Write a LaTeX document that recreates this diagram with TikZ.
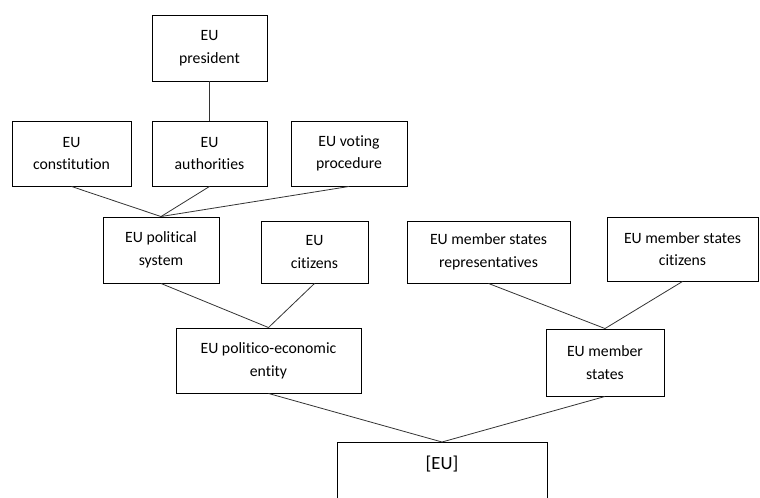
\documentclass[tikz,border=0pt]{standalone}
\usepackage{fontspec}
\setmainfont{Carlito}[RawFeature={-liga}]
\begin{document}
\begin{tikzpicture}[x=0.75pt,y=-0.75pt,
	box/.style={draw=black, line width=0.7pt, align=center, inner sep=0pt, font=\fontsize{11.8}{17}\selectfont},
	link/.style={draw=black!80, line width=0.6pt}]
\useasboundingbox (0,0) rectangle (760,497);
% boxes, top to bottom
\node [box, minimum width=115*0.75pt, minimum height=66*0.75pt] (pres) at (209.5,48) {EU\\president};
\node [box, minimum width=119*0.75pt, minimum height=65*0.75pt] (const) at (71.5,153.5) {EU\\constitution};
\node [box, minimum width=115*0.75pt, minimum height=65*0.75pt] (auth) at (209.5,153.5) {EU\\authorities};
\node [box, minimum width=116*0.75pt, minimum height=65*0.75pt] (vote) at (349,153.5) {EU voting\\procedure};
\node [box, minimum width=116*0.75pt, minimum height=66*0.75pt] (polsys) at (161,250) {EU political\\system};
\node [box, minimum width=107*0.75pt, minimum height=62*0.75pt] (cit) at (314.5,252) {EU\\citizens};
\node [box, minimum width=163*0.75pt, minimum height=62*0.75pt] (reps) at (488.5,252) {EU member states\\representatives};
\node [box, minimum width=151*0.75pt, minimum height=64*0.75pt] (mscit) at (682.5,249) {EU member states\\citizens};
\node [box, minimum width=185*0.75pt, minimum height=65*0.75pt] (entity) at (268.5,360.5) {EU politico-economic\\entity};
\node [box, minimum width=118*0.75pt, minimum height=67*0.75pt] (ms) at (605,362.5) {EU member\\states};
\node [box, anchor=north, minimum width=210*0.75pt, text height=20pt, text depth=50pt, font=\fontsize{14}{17}\selectfont] (eu) at (442,442) {[EU]};
%
\draw [link] (pres.south) -- (auth.north);
\foreach \a/\b in {const/polsys, auth/polsys, vote/polsys, polsys/entity, cit/entity, reps/ms, mscit/ms, entity/eu, ms/eu}
	\draw [link] (\a.south) -- (\b.north);
\end{tikzpicture}
\end{document}
